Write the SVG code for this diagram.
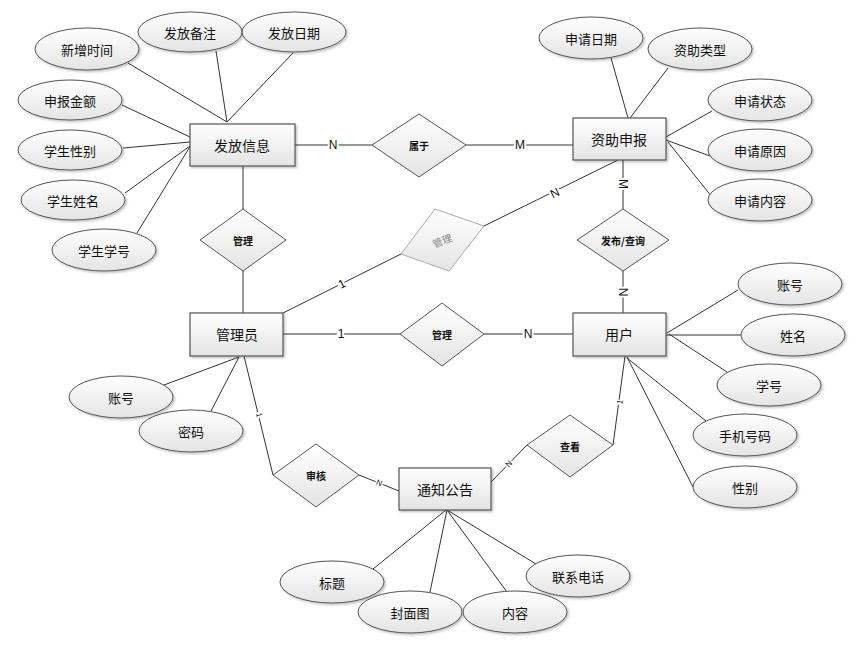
<svg xmlns="http://www.w3.org/2000/svg" width="866" height="652" viewBox="0 0 866 652">
<defs>
<linearGradient id="g" x1="0" y1="0" x2="0" y2="1">
<stop offset="0" stop-color="#ffffff"/>
<stop offset="1" stop-color="#e4e4e4"/>
</linearGradient>
<filter id="sh" x="-10%" y="-10%" width="125%" height="130%">
<feDropShadow dx="1.5" dy="1.5" stdDeviation="0.8" flood-color="#000" flood-opacity="0.25"/>
</filter>
</defs>
<style>
.e{fill:url(#g);stroke:#555;stroke-width:1;filter:url(#sh)}
.r{fill:url(#g);stroke:#555;stroke-width:1.2;filter:url(#sh)}
.d{fill:url(#g);stroke:#555;stroke-width:1}
.dg{fill:url(#g);stroke:#aaa;stroke-width:1}
.t{font-family:"Noto Sans CJK SC","Liberation Sans",sans-serif;font-size:13px;fill:#111;text-anchor:middle;dominant-baseline:central}
.te{font-size:14px}
.td{font-size:10px;font-weight:bold}
.tg{font-size:10px;fill:#888}
.l{stroke:#333;stroke-width:1;fill:none}
.lb{font-family:"Liberation Sans",sans-serif;font-size:12px;fill:#111;text-anchor:middle;dominant-baseline:central;paint-order:stroke;stroke:#fff;stroke-width:4px}
.ls{font-size:8px;stroke-width:3px}
</style>
<g id="connectors">
<!-- 发放信息 attrs -->
<line class="l" x1="128" y1="63" x2="227" y2="122"/>
<line class="l" x1="216" y1="51" x2="227" y2="122"/>
<line class="l" x1="293" y1="53" x2="227" y2="122"/>
<line class="l" x1="122" y1="105" x2="190" y2="137"/>
<line class="l" x1="123" y1="148" x2="190" y2="142"/>
<line class="l" x1="125" y1="193" x2="190" y2="146"/>
<line class="l" x1="137" y1="233" x2="191" y2="145"/>
<!-- 发放信息 - 管理 - 管理员 -->
<line class="l" x1="243" y1="166" x2="243" y2="209"/>
<line class="l" x1="243" y1="271" x2="243" y2="313"/>
<!-- 发放信息 - 属于 - 资助申报 -->
<line class="l" x1="295" y1="145" x2="372" y2="145"/>
<line class="l" x1="466" y1="145" x2="573" y2="145"/>
<!-- 资助申报 attrs -->
<line class="l" x1="611" y1="58" x2="628" y2="118"/>
<line class="l" x1="668" y1="68" x2="630" y2="118"/>
<line class="l" x1="712" y1="111" x2="666" y2="137"/>
<line class="l" x1="710" y1="156" x2="666" y2="140" stroke-width="1.4"/>
<line class="l" x1="712" y1="197" x2="668" y2="142"/>
<!-- 资助申报 - 发布/查询 - 用户 -->
<line class="l" x1="623" y1="160" x2="623" y2="209"/>
<line class="l" x1="623" y1="271" x2="623" y2="313"/>
<!-- 资助申报 - 管理(gray) - 管理员 -->
<line class="l" x1="618" y1="160" x2="484" y2="226"/>
<line class="l" x1="401" y1="254" x2="283" y2="313"/>
<!-- 管理员 - 管理 - 用户 -->
<line class="l" x1="283" y1="334" x2="400" y2="334"/>
<line class="l" x1="484" y1="334" x2="573" y2="334"/>
<!-- 用户 attrs -->
<line class="l" x1="738" y1="290" x2="667" y2="333"/>
<line class="l" x1="741" y1="335" x2="666" y2="335"/>
<line class="l" x1="727" y1="372" x2="669" y2="334"/>
<line class="l" x1="706" y1="421" x2="627" y2="358"/>
<line class="l" x1="693" y1="487" x2="627" y2="357"/>
<!-- 用户 - 查看 - 通知公告 -->
<line class="l" x1="625" y1="356" x2="613" y2="445"/>
<line class="l" x1="527" y1="445" x2="491" y2="482"/>
<!-- 管理员 - 审核 - 通知公告 -->
<line class="l" x1="244" y1="356" x2="273" y2="475"/>
<line class="l" x1="359" y1="475" x2="399" y2="491"/>
<!-- 管理员 attrs -->
<line class="l" x1="164" y1="385" x2="239" y2="357"/>
<line class="l" x1="211" y1="411" x2="239" y2="357"/>
<!-- 通知公告 attrs -->
<line class="l" x1="373" y1="569" x2="446" y2="510"/>
<line class="l" x1="430" y1="592" x2="447" y2="510"/>
<line class="l" x1="507" y1="592" x2="447" y2="510"/>
<line class="l" x1="536" y1="564" x2="447" y2="510"/>
<!-- cardinality labels -->
<text class="lb" x="333" y="145">N</text>
<text class="lb" x="520" y="145">M</text>
<text class="lb" transform="translate(623,184) rotate(90)">M</text>
<text class="lb" transform="translate(623,292) rotate(90)">N</text>
<text class="lb" transform="translate(555,193) rotate(-26)">N</text>
<text class="lb" transform="translate(342,284) rotate(-27)">1</text>
<text class="lb" x="341" y="334">1</text>
<text class="lb" x="528" y="334">N</text>
<text class="lb ls" transform="translate(259,415) rotate(76)">1</text>
<text class="lb ls" transform="translate(379,483) rotate(22)">N</text>
<text class="lb ls" transform="translate(620,402) rotate(-82)">1</text>
<text class="lb ls" transform="translate(509,464) rotate(-46)">N</text>
</g>
<!-- entities -->
<g id="fafang"><rect class="r" x="190" y="124" width="105" height="42"/><text class="t te" x="242" y="145">发放信息</text></g>
<g id="zizhu"><rect class="r" x="573" y="118" width="93" height="42"/><text class="t te" x="619" y="139">资助申报</text></g>
<g id="guanliyuan"><rect class="r" x="190" y="313" width="93" height="43"/><text class="t te" x="237" y="334">管理员</text></g>
<g id="yonghu"><rect class="r" x="573" y="313" width="93" height="43"/><text class="t te" x="619" y="334">用户</text></g>
<g id="tongzhi"><rect class="r" x="399" y="468" width="92" height="42"/><text class="t te" x="445" y="489">通知公告</text></g>
<!-- relationships -->
<g id="rel-guanli1"><polygon class="d" points="243,209 286,240 243,271 200,240"/><text class="t td" x="243" y="240">管理</text></g>
<g id="rel-shuyu"><polygon class="d" points="419,114 466,145 419,177 372,145"/><text class="t td" x="419" y="145">属于</text></g>
<g id="rel-fabu"><polygon class="d" points="623,209 669,240 623,271 577,240"/><text class="t td" x="623" y="240">发布/查询</text></g>
<g id="rel-guanli-gray"><polygon class="dg" points="435,209 484,226 449,271 401,254"/><text class="t tg" transform="translate(442,240) rotate(-22)">管理</text></g>
<g id="rel-guanli2"><polygon class="d" points="442,303 484,334 442,366 400,334"/><text class="t td" x="442" y="334">管理</text></g>
<g id="rel-chakan"><polygon class="d" points="570,415 613,445 570,477 527,445"/><text class="t td" x="570" y="446">查看</text></g>
<g id="rel-shenhe"><polygon class="d" points="316,444 359,475 316,507 273,475"/><text class="t td" x="316" y="475">审核</text></g>
<!-- attributes -->
<g id="a-xinzeng"><ellipse class="e" cx="87" cy="49" rx="52" ry="21"/><text class="t" x="87" y="49">新增时间</text></g>
<g id="a-beizhu"><ellipse class="e" cx="190" cy="32" rx="52" ry="20"/><text class="t" x="190" y="32">发放备注</text></g>
<g id="a-riqi"><ellipse class="e" cx="294" cy="32" rx="52" ry="20"/><text class="t" x="294" y="32">发放日期</text></g>
<g id="a-jine"><ellipse class="e" cx="70" cy="100" rx="52" ry="20"/><text class="t" x="70" y="100">申报金额</text></g>
<g id="a-xingbie1"><ellipse class="e" cx="70" cy="150" rx="52" ry="20"/><text class="t" x="70" y="150">学生性别</text></g>
<g id="a-xingming"><ellipse class="e" cx="73" cy="200" rx="52" ry="20"/><text class="t" x="73" y="200">学生姓名</text></g>
<g id="a-xuehao1"><ellipse class="e" cx="104" cy="250" rx="52" ry="21"/><text class="t" x="104" y="250">学生学号</text></g>
<g id="a-shenqingriqi"><ellipse class="e" cx="591" cy="38" rx="52" ry="21"/><text class="t" x="591" y="38">申请日期</text></g>
<g id="a-leixing"><ellipse class="e" cx="700" cy="49" rx="52" ry="21"/><text class="t" x="700" y="49">资助类型</text></g>
<g id="a-zhuangtai"><ellipse class="e" cx="760" cy="100" rx="52" ry="21"/><text class="t" x="760" y="100">申请状态</text></g>
<g id="a-yuanyin"><ellipse class="e" cx="760" cy="150" rx="52" ry="21"/><text class="t" x="760" y="150">申请原因</text></g>
<g id="a-neirong1"><ellipse class="e" cx="760" cy="200" rx="52" ry="21"/><text class="t" x="760" y="200">申请内容</text></g>
<g id="a-zhanghao2"><ellipse class="e" cx="790" cy="284" rx="52" ry="21"/><text class="t" x="790" y="284">账号</text></g>
<g id="a-xingming2"><ellipse class="e" cx="793" cy="335" rx="52" ry="21"/><text class="t" x="793" y="335">姓名</text></g>
<g id="a-xuehao2"><ellipse class="e" cx="769" cy="385" rx="52" ry="21"/><text class="t" x="769" y="385">学号</text></g>
<g id="a-shouji"><ellipse class="e" cx="745" cy="435" rx="52" ry="21"/><text class="t" x="745" y="435">手机号码</text></g>
<g id="a-xingbie2"><ellipse class="e" cx="745" cy="487" rx="52" ry="21"/><text class="t" x="745" y="487">性别</text></g>
<g id="a-zhanghao1"><ellipse class="e" cx="121" cy="397" rx="52" ry="21"/><text class="t" x="121" y="397">账号</text></g>
<g id="a-mima"><ellipse class="e" cx="191" cy="431" rx="52" ry="21"/><text class="t" x="191" y="431">密码</text></g>
<g id="a-biaoti"><ellipse class="e" cx="332" cy="582" rx="52" ry="21"/><text class="t" x="332" y="582">标题</text></g>
<g id="a-fengmian"><ellipse class="e" cx="410" cy="612" rx="52" ry="21"/><text class="t" x="410" y="612">封面图</text></g>
<g id="a-neirong2"><ellipse class="e" cx="515" cy="612" rx="52" ry="21"/><text class="t" x="515" y="612">内容</text></g>
<g id="a-dianhua"><ellipse class="e" cx="578" cy="576" rx="52" ry="21"/><text class="t" x="578" y="576">联系电话</text></g>
</svg>
